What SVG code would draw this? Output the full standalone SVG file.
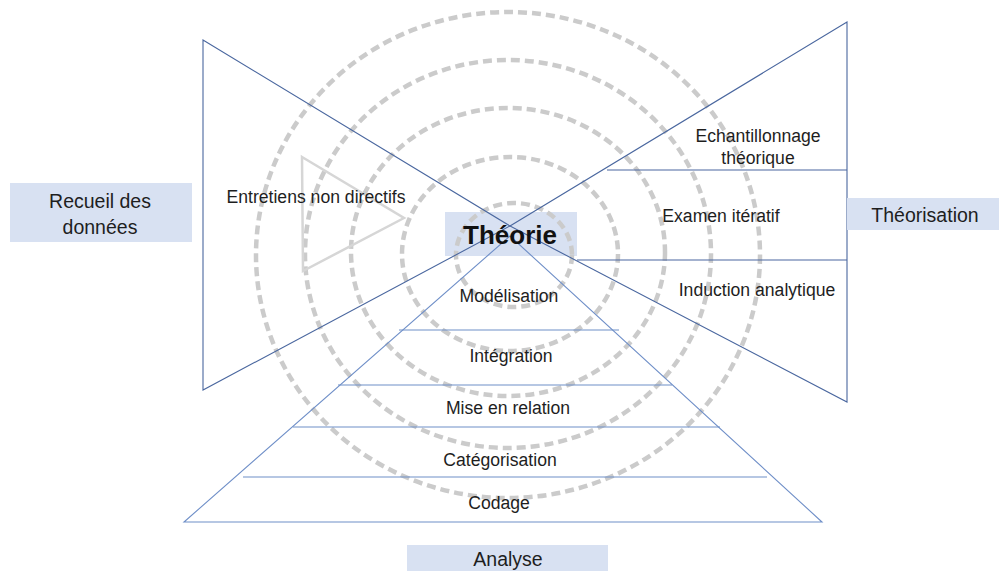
<svg xmlns="http://www.w3.org/2000/svg" width="999" height="571" viewBox="0 0 999 571">
<style>
.ring{fill:none;stroke:#cbcbcb;stroke-width:4.5;stroke-dasharray:9 5}
.ln{fill:none;stroke:#4a679f;stroke-width:1.1}
.lb{stroke:#6f8fc8}
.box{fill:#d8e1f2}
.t{font-family:"Liberation Sans",Arial,sans-serif;font-size:17.6px;fill:#1e1e1e;text-anchor:middle}
.tb{font-size:19.5px}
.th{font-family:"Liberation Sans",Arial,sans-serif;font-weight:bold;font-size:26px;fill:#111;text-anchor:middle}
</style>
<rect width="999" height="571" fill="#ffffff"/>
<g id="box-theorie-bg"><rect class="box" x="445" y="212" width="132" height="44"/></g>
<g id="rings">
<ellipse class="ring" cx="508" cy="255" rx="252" ry="243"/>
<ellipse class="ring" cx="508" cy="254" rx="203" ry="194"/>
<ellipse class="ring" cx="508" cy="252" rx="157" ry="144"/>
<ellipse class="ring" cx="510" cy="254" rx="108" ry="97"/>
<ellipse class="ring" cx="514" cy="255" rx="58" ry="52"/>
</g>
<g id="faint-triangle"><polygon points="302,157 404,218 303,271" fill="none" stroke="#d6d6d6" stroke-width="2.5"/></g>
<g id="connectors">
<polygon class="ln" points="203,40 203,390 510,226"/>
<polygon class="ln" points="847,22 847,402 510,226"/>
<line class="ln" x1="607" y1="170" x2="847" y2="170"/>
<line class="ln" x1="577" y1="260" x2="847" y2="260"/>
<polygon class="ln lb" points="184,522 822,522 510,236"/>
<line class="ln lb" x1="399" y1="330" x2="619" y2="330"/>
<line class="ln lb" x1="338" y1="385" x2="672" y2="385"/>
<line class="ln lb" x1="293" y1="427" x2="720" y2="427"/>
<line class="ln lb" x1="243" y1="477" x2="767" y2="477"/>
</g>
<g id="recueil">
<rect class="box" x="10" y="183" width="182" height="59"/>
<text class="t tb" x="100" y="208">Recueil des</text>
<text class="t tb" x="100" y="234">données</text>
</g>
<g id="theorisation">
<rect class="box" x="847" y="198" width="152" height="32"/>
<text class="t tb" x="925" y="222">Théorisation</text>
</g>
<g id="analyse">
<rect class="box" x="407" y="545" width="201" height="26"/>
<text class="t tb" x="508" y="566">Analyse</text>
</g>
<g id="theorie"><text class="th" x="510" y="244">Théorie</text></g>
<g id="entretiens"><text class="t" x="316" y="203">Entretiens non directifs</text></g>
<g id="echantillonnage"><text class="t" x="758" y="142">Echantillonnage</text><text class="t" x="758" y="164">théorique</text></g>
<g id="examen"><text class="t" x="721" y="222">Examen itératif</text></g>
<g id="induction"><text class="t" x="757" y="296">Induction analytique</text></g>
<g id="modelisation"><text class="t" x="509" y="302">Modélisation</text></g>
<g id="integration"><text class="t" x="511" y="362">Intégration</text></g>
<g id="mise"><text class="t" x="508" y="414">Mise en relation</text></g>
<g id="categorisation"><text class="t" x="500" y="466">Catégorisation</text></g>
<g id="codage"><text class="t" x="499" y="509">Codage</text></g>
</svg>
